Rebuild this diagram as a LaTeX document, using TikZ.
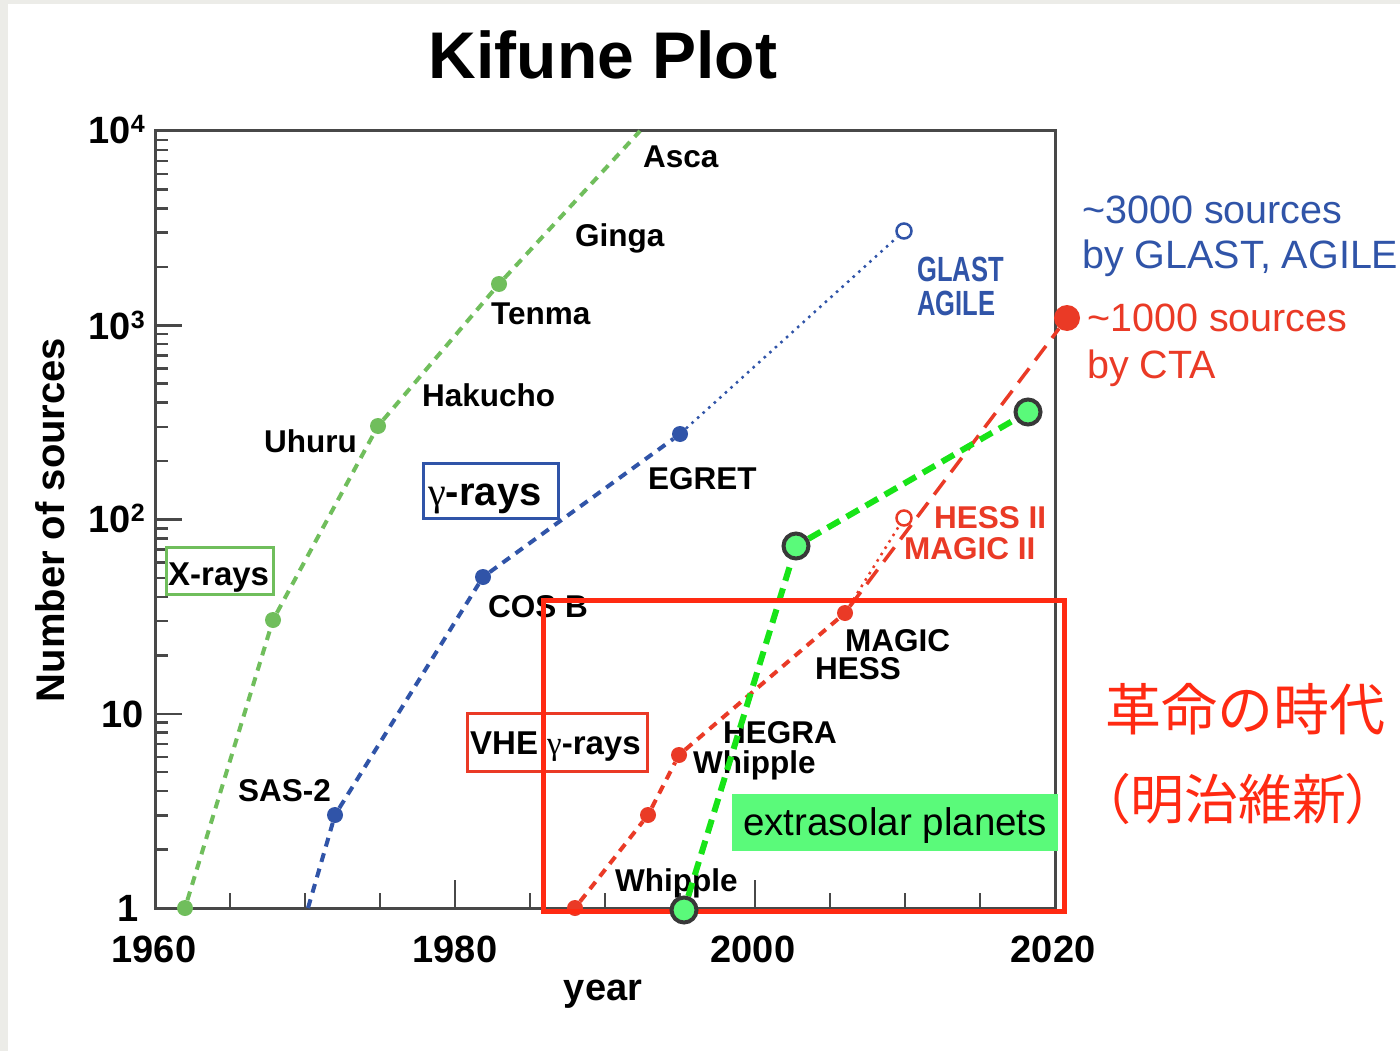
\documentclass[tikz,border=0pt]{standalone}
\usepackage{fontspec}
\usepackage{graphicx}
\setmainfont{Liberation Sans}
\newfontfamily\jp{Noto Sans CJK JP}
\newfontfamily\jpp[RawFeature=+palt]{Noto Sans CJK JP}
\newfontfamily\gkserif{Liberation Serif}
\newcommand{\gmm}{{\gkserif\mdseries γ}}
\definecolor{xg}{RGB}{112,190,92}
\definecolor{gb}{RGB}{48,84,168}
\definecolor{vr}{RGB}{234,58,38}
\definecolor{boxred}{RGB}{255,42,18}
\definecolor{pg}{RGB}{90,250,122}
\definecolor{plinec}{RGB}{24,228,24}
\definecolor{framec}{RGB}{72,72,72}
\definecolor{bgg}{RGB}{236,236,232}
\pgfdeclarelayer{front}
\pgfsetlayers{main,front}
\begin{document}
\begin{tikzpicture}[x=1pt,y=-1pt,
  lab/.style={font=\bfseries\fontsize{31.5}{36}\selectfont, inner sep=0pt, anchor=base west},
  ticklab/.style={font=\bfseries\fontsize{38}{40}\selectfont, inner sep=0pt},
  axisline/.style={draw=framec, line width=3pt},
  xdot/.style={circle, fill=xg, inner sep=0pt, minimum size=16pt},
  bdot/.style={circle, fill=gb, inner sep=0pt, minimum size=16pt},
  rdot/.style={circle, fill=vr, inner sep=0pt, minimum size=16pt},
  bopen/.style={circle, draw=gb, fill=white, line width=2.5pt, inner sep=0pt, minimum size=15pt},
  ropen/.style={circle, draw=vr, fill=white, line width=2.5pt, inner sep=0pt, minimum size=15pt},
  pdot/.style={circle, draw=black!78, fill=pg, line width=4pt, inner sep=0pt, minimum size=25pt},
  xline/.style={draw=xg, line width=4pt, dash pattern=on 9pt off 7pt},
  bline/.style={draw=gb, line width=4pt, dash pattern=on 9pt off 7pt},
  rline/.style={draw=vr, line width=4pt, dash pattern=on 9pt off 7pt},
  bdots/.style={draw=gb, line width=2.5pt, dash pattern=on 2.5pt off 5pt},
  rdots/.style={draw=vr, line width=2.5pt, dash pattern=on 2.5pt off 5pt},
  ctaline/.style={draw=vr, line width=3.5pt, dash pattern=on 18pt off 10pt},
  pline/.style={draw=plinec, line width=6pt, dash pattern=on 14pt off 8pt},
  side/.style={font=\fontsize{39.5}{42}\selectfont, inner sep=0pt, anchor=base west}
]
\useasboundingbox (0,0) rectangle (1400,1051);
\fill[bgg] (0,0) rectangle (1400,1051);
\fill[white] (8,4) rectangle (1400,1051);

% title
\node[font=\bfseries\fontsize{66}{70}\selectfont, anchor=base, inner sep=0pt] (title) at (603,79) {Kifune Plot};

% frame and ticks
\draw[axisline] (155,131) rectangle (1055,908);
\foreach \d in {0,...,3}{
  \foreach \m in {2,...,9}{
    \pgfmathsetmacro\yy{908-194.25*(\d+log10(\m))}
    \draw[draw=framec, line width=2.5pt] (155,\yy) -- ++(13,0);
  }
}
\foreach \yy in {713.75,519.5,325.25}{
  \draw[draw=framec, line width=2.5pt] (155,\yy) -- ++(27,0);
}
\foreach \yr in {1965,1970,...,2015}{
  \pgfmathsetmacro\xx{155+15*(\yr-1960)}
  \draw[draw=framec, line width=2.5pt] (\xx,908) -- ++(0,-15);
}
\foreach \xx in {455,755}{
  \draw[draw=framec, line width=2.5pt] (\xx,908) -- ++(0,-28);
}

% tick labels
\node[ticklab, anchor=base east] (y4) at (145,144) {10\raisebox{11pt}{\fontsize{25}{25}\selectfont 4}};
\node[ticklab, anchor=base east] (y3) at (145,339) {10\raisebox{11pt}{\fontsize{25}{25}\selectfont 3}};
\node[ticklab, anchor=base east] (y2) at (145,532) {10\raisebox{11pt}{\fontsize{25}{25}\selectfont 2}};
\node[ticklab, anchor=base east] (y1) at (144,727) {10};
\node[ticklab, anchor=base east] (y0) at (139,921) {1};
\node[ticklab, anchor=base] (t1960) at (154,962) {1960};
\node[ticklab, anchor=base] (t1980) at (455,962) {1980};
\node[ticklab, anchor=base] (t2000) at (753,962) {2000};
\node[ticklab, anchor=base] (t2020) at (1053,962) {2020};
\node[ticklab, anchor=base] (year) at (603,1000) {year};
\node[font=\bfseries\fontsize{40}{42}\selectfont, inner sep=0pt, anchor=base, rotate=90] (ylab) at (64,520) {Number of sources};

% X-ray series
\node[xdot] (x1) at (185,908) {};
\node[xdot] (x2) at (273,620) {};
\node[xdot] (x3) at (378,426) {};
\node[xdot] (x4) at (499,284) {};
\coordinate (x5) at (640,131);
\draw[xline] (x1) -- (x2) -- (x3) -- (x4) -- (x5);

% gamma-ray series
\coordinate (b0) at (308,908);
\node[bdot] (b1) at (335,815) {};
\node[bdot] (b2) at (483,577) {};
\node[bdot] (b3) at (680,434) {};
\node[bopen] (b4) at (904,231) {};
\draw[bline] (b0) -- (b1) -- (b2) -- (b3);
\draw[bdots] (b3) -- (b4);

% VHE series
\node[rdot] (r1) at (575,908) {};
\node[rdot] (r2) at (648,815) {};
\node[rdot] (r3) at (679,755) {};
\node[rdot] (r4) at (845,613) {};
\node[ropen] (r5) at (904,518) {};
\node[circle, fill=vr, inner sep=0pt, minimum size=26pt] (cta) at (1067,318) {};
\draw[rline] (r1) -- (r2) -- (r3) -- (r4);
\draw[rdots] (r4) -- (r5);
\draw[ctaline] (r4) -- (cta);

% labels
\node[lab] (asca) at (643,168) {Asca};
\node[lab] (ginga) at (575,247) {Ginga};
\node[lab] (tenma) at (491,324) {Tenma};
\node[lab] (hakucho) at (422,406) {Hakucho};
\node[lab] (uhuru) at (264,452) {Uhuru};
\node[lab] (egret) at (648,489) {EGRET};
\node[lab] (cosb) at (488,617) {COS B};
\node[lab] (sas) at (238,801) {SAS-2};
\node[lab] (hegra) at (723,743) {HEGRA};
\node[lab] (whip1) at (693,773) {Whipple};
\node[lab] (whip2) at (615,891) {Whipple};
\node[lab] (magic) at (845,651) {MAGIC};
\node[lab] (hess) at (815,679) {HESS};
\node[lab, text=vr] (hess2) at (934,528) {HESS II};
\node[lab, text=vr] (magic2) at (904,559) {MAGIC II};
\node[lab, text=gb, font=\bfseries\fontsize{35}{36}\selectfont] (glast) at (917,281) {\scalebox{0.73}[1]{GLAST}};
\node[lab, text=gb, font=\bfseries\fontsize{35}{36}\selectfont] (agile) at (917,315) {\scalebox{0.73}[1]{AGILE}};

% category boxes
\node[draw=xg, line width=3pt, minimum width=107pt, minimum height=47pt, inner sep=0pt] (xbox) at (220,571) {};
\node[lab, font=\bfseries\fontsize{33}{36}\selectfont] (xtxt) at (168,585) {X-rays};
\node[draw=gb, line width=3pt, minimum width=135pt, minimum height=55pt, inner sep=0pt] (gbox) at (491,491) {};
\node[lab, font=\bfseries\fontsize{40}{44}\selectfont] (gtxt) at (428,505) {\gmm-rays};
\node[draw=vr, line width=3pt, minimum width=180pt, minimum height=58pt, inner sep=0pt] (vbox) at (557,742) {};
\node[lab, font=\bfseries\fontsize{33}{36}\selectfont] (vtxt) at (470,754) {VHE \gmm-rays};

% side texts
\node[side, text=gb] (s1) at (1082,223) {\textasciitilde 3000 sources};
\node[side, text=gb] (s2) at (1082,269) {by GLAST, AGILE};
\node[side, text=vr] (s3) at (1087,331) {\textasciitilde 1000 sources};
\node[side, text=vr] (s4) at (1087,378) {by CTA};

% extrasolar planets
\begin{pgfonlayer}{front}
\node[pdot] (p1) at (684,910) {};
\node[pdot] (p2) at (796,546) {};
\node[pdot] (p3) at (1028,412) {};
\node[fill=pg, minimum width=326pt, minimum height=57pt, inner sep=0pt, anchor=north west] (pbox) at (732,794) {};
\node[font=\fontsize{38.5}{40}\selectfont, inner sep=0pt, anchor=base] (ptxt) at (895,835) {extrasolar planets};
\end{pgfonlayer}
\draw[pline] (p1) -- (p2) -- (p3);
\draw[draw=boxred, line width=5pt] (543,600) rectangle (1064,911);

% Japanese
\node[font=\jp\fontsize{56}{60}\selectfont, text=boxred, inner sep=0pt] (jp1) at (1245,709) {革命の時代};
\node[font=\jp\fontsize{54}{58}\selectfont, text=boxred, inner sep=0pt] (jp2) at (1238,799) {{\jpp（}明治維新{\jpp）}};
\end{tikzpicture}
\end{document}
